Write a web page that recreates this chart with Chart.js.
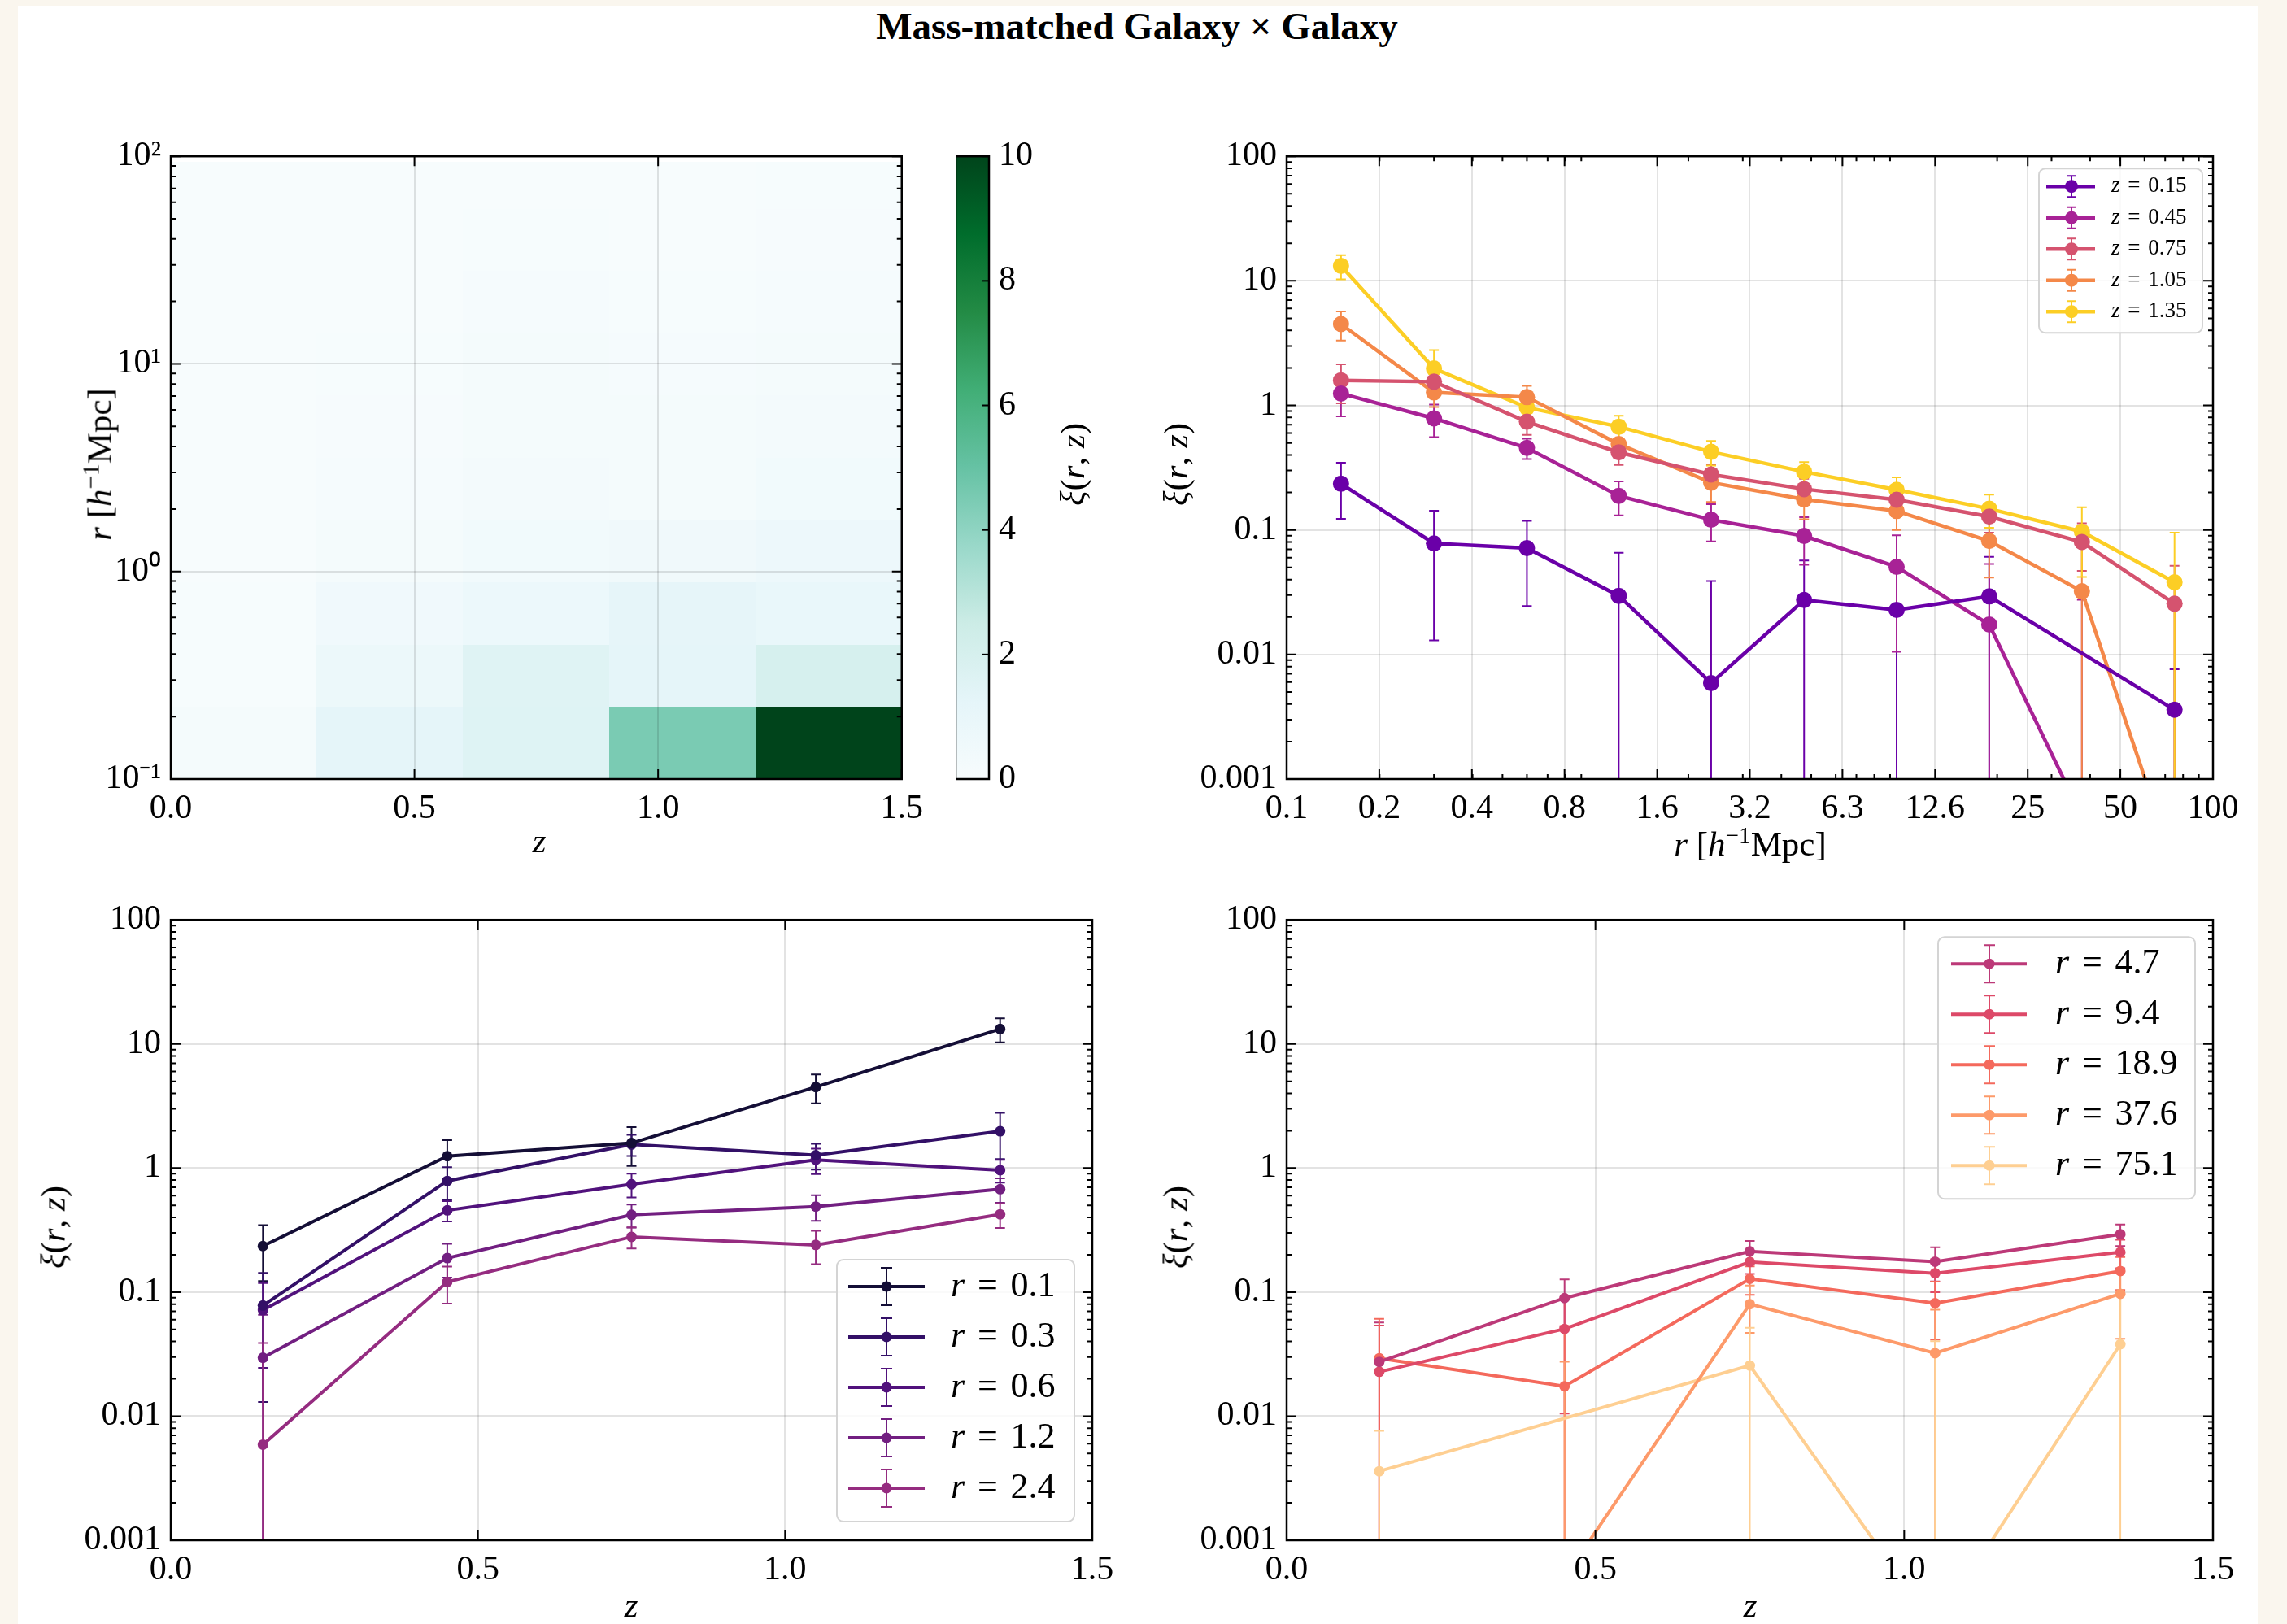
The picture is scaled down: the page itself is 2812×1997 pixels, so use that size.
<!DOCTYPE html>
<html>
<head>
<meta charset="utf-8">
<script src="https://cdn.jsdelivr.net/npm/chart.js@4.4.1/dist/chart.umd.min.js"></script>
<style>
  body { margin: 0; width: 2812px; height: 1997px; background: #faf6ee; overflow: hidden; font-family: 'Liberation Serif', serif; }
  #page { position: absolute; left: 22px; top: 7px; width: 2754px; height: 1990px; background: #fff; }
  canvas { position: absolute; }
  .lbl { position: absolute; font-size: 43px; white-space: nowrap; color: #000; transform: translate(-50%, -50%); line-height: 1; }
  .rot { transform: translate(-50%, -50%) rotate(-90deg); }
  .lbl sup { font-size: 0.68em; vertical-align: 0.5em; line-height: 0; }
  #title { position: absolute; left: 1398px; top: 32px; transform: translate(-50%, -50%); font-size: 47px; font-weight: bold; white-space: nowrap; }
</style>
</head>
<body>
<div id="page"></div>
<div id="title">Mass-matched Galaxy × Galaxy</div>

<canvas id="heat" width="1087" height="883" style="left:60px;top:155px"></canvas>
<canvas id="cbar" width="131" height="883" style="left:1175px;top:155px"></canvas>
<canvas id="xiR" width="1334" height="883" style="left:1432px;top:155px"></canvas>
<canvas id="xiZlo" width="1323" height="880" style="left:60px;top:1094px"></canvas>
<canvas id="xiZhi" width="1334" height="880" style="left:1432px;top:1094px"></canvas>

<div class="lbl" style="left:663px;top:1033px"><i>z</i></div>
<div class="lbl rot" style="left:122px;top:571px"><i>r</i> [<i>h</i><sup>−1</sup>Mpc]</div>
<div class="lbl rot" style="left:1318px;top:571px"><i>ξ</i>(<i>r</i>, <i>z</i>)</div>
<div class="lbl" style="left:2152px;top:1037px"><i>r</i> [<i>h</i><sup>−1</sup>Mpc]</div>
<div class="lbl rot" style="left:1445px;top:571px"><i>ξ</i>(<i>r</i>, <i>z</i>)</div>
<div class="lbl" style="left:776px;top:1973px"><i>z</i></div>
<div class="lbl rot" style="left:65px;top:1509px"><i>ξ</i>(<i>r</i>, <i>z</i>)</div>
<div class="lbl" style="left:2152px;top:1973px"><i>z</i></div>
<div class="lbl rot" style="left:1445px;top:1509px"><i>ξ</i>(<i>r</i>, <i>z</i>)</div>

<script>
// ---- data ----
const zCenters = [0.15, 0.45, 0.75, 1.05, 1.35];
const zLabels = ['0.15', '0.45', '0.75', '1.05', '1.35'];
const rCenters = [0.15, 0.30, 0.60, 1.19, 2.37, 4.74, 9.45, 18.85, 37.62, 75.06];
const rLabels = ['0.1', '0.3', '0.6', '1.2', '2.4', '4.7', '9.4', '18.9', '37.6', '75.1'];

// xi(r, z), one row per redshift bin (null = no measurement)
const xiZ015 = [0.235, 0.078, 0.0715, 0.0296, 0.0059, 0.0274, 0.0228, 0.0293, null, 0.0036];
const xiZ045 = [1.246, 0.787, 0.456, 0.188, 0.1208, 0.0895, 0.0505, 0.0174, 0.0005, null];
const xiZ075 = [1.59, 1.55, 0.74, 0.42, 0.279, 0.213, 0.175, 0.128, 0.080, 0.0256];
const xiZ105 = [4.5, 1.27, 1.165, 0.489, 0.24, 0.176, 0.142, 0.0815, 0.0322, 0.0002];
const xiZ135 = [13.2, 1.98, 0.962, 0.675, 0.424, 0.293, 0.21, 0.148, 0.097, 0.038];

// 1-sigma errors, same layout
const errZ015 = [0.112, 0.065, 0.047, 0.036, 0.033, 0.0295, 0.031, 0.0315, null, 0.004];
const errZ045 = [0.43, 0.23, 0.085, 0.057, 0.04, 0.037, 0.040, 0.036, 0.027, null];
const errZ075 = [0.55, 0.3, 0.16, 0.088, 0.054, 0.045, 0.035, 0.033, 0.033, 0.026];
const errZ105 = [1.18, 0.3, 0.27, 0.114, 0.072, 0.054, 0.042, 0.04, 0.04, 0.04];
const errZ135 = [2.9, 0.8, 0.2, 0.15, 0.095, 0.058, 0.054, 0.044, 0.055, 0.057];

// axis ticks
const zTicks = [0, 0.5, 1.0, 1.5];
const zTickLabels = ['0.0', '0.5', '1.0', '1.5'];
const xiTicks = [0.001, 0.01, 0.1, 1, 10, 100];
const xiTickLabels = ['0.001', '0.01', '0.1', '1', '10', '100'];
const rTicks = [0.1, 0.1995, 0.3981, 0.7943, 1.585, 3.162, 6.310, 12.59, 25.12, 50.12, 100];
const rTickLabels = ['0.1', '0.2', '0.4', '0.8', '1.6', '3.2', '6.3', '12.6', '25', '50', '100'];
const rHeatTicks = [0.1, 1, 10, 100];
const rHeatTickLabels = ['10\u207B\u00B9', '10\u2070', '10\u00B9', '10\u00B2'];
const cbarTicks = [0, 2, 4, 6, 8, 10];
const cbarTickLabels = ['0', '2', '4', '6', '8', '10'];

// colours
const zColors = ['#6a00a8', '#a82296', '#d5536f', '#f48849', '#fcce25'];
const rColors = ['#140e36', '#331067', '#51127c', '#721f81', '#952c80',
                 '#bc3978', '#dd4968', '#f4695c', '#fd9a6a', '#fecf92'];
const BUGN = ['#f7fcfd', '#e5f5f9', '#ccece6', '#99d8c9', '#66c2a4', '#41ae76', '#238b45', '#006d2c', '#00441b'];

const xiRows = [xiZ015, xiZ045, xiZ075, xiZ105, xiZ135];
const errRows = [errZ015, errZ045, errZ075, errZ105, errZ135];

const SERIF = "'Liberation Serif', 'Times New Roman', serif";
const TICK_FONT = { family: SERIF, size: 42 };
const GRID = 'rgba(0,0,0,0.11)';

// ---- helpers ----
function hexToRgb(h) {
  const n = parseInt(h.slice(1), 16);
  return [(n >> 16) & 255, (n >> 8) & 255, n & 255];
}
function bugn(t) {
  t = Math.max(0, Math.min(1, t));
  const s = t * (BUGN.length - 1);
  const i = Math.min(Math.floor(s), BUGN.length - 2);
  const f = s - i;
  const a = hexToRgb(BUGN[i]), b = hexToRgb(BUGN[i + 1]);
  return 'rgb(' + a.map((c, k) => Math.round(c + (b[k] - c) * f)).join(',') + ')';
}
function edges(c) {
  const e = [c[0] - (c[1] - c[0]) / 2];
  for (let i = 0; i < c.length - 1; i++) e.push((c[i] + c[i + 1]) / 2);
  e.push(c[c.length - 1] + (c[c.length - 1] - c[c.length - 2]) / 2);
  return e;
}
function logMinors(lo, hi) {
  const out = [];
  for (let e = Math.floor(Math.log10(lo)); e <= Math.ceil(Math.log10(hi)); e++) {
    for (let m = 2; m <= 9; m++) {
      const v = m * Math.pow(10, e);
      if (v > lo && v < hi) out.push(v);
    }
  }
  return out;
}

function axis(type, min, max, ticks, labels, size, extra) {
  return Object.assign({
    type, min, max,
    afterBuildTicks: s => { s.ticks = ticks.map(v => ({ value: v })); },
    afterFit: s => { if (s.isHorizontal()) s.height = size; else s.width = size; },
    ticks: { callback: (v, i) => labels[i], autoSkip: false, maxRotation: 0, minRotation: 0,
             font: TICK_FONT, color: '#000', padding: 12 },
    grid: { color: GRID, lineWidth: 2, drawTicks: false },
    border: { display: false }
  }, extra || {});
}

// inward ticks on all sides + black frame
function frame(xMinor, yMinor, sides) {
  sides = sides || { left: true, right: true, top: true, bottom: true };
  return {
    id: 'frame',
    afterDraw(chart) {
      const { ctx, chartArea: a } = chart;
      const x = chart.scales.x, y = chart.scales.y;
      ctx.save();
      ctx.strokeStyle = '#000';
      ctx.lineWidth = 2;
      const mark = (sc, vals, len) => {
        vals.forEach(v => {
          const p = sc.getPixelForValue(v);
          ctx.beginPath();
          if (sc.isHorizontal()) {
            if (p < a.left - 0.5 || p > a.right + 0.5) return;
            if (sides.bottom) { ctx.moveTo(p, a.bottom); ctx.lineTo(p, a.bottom - len); }
            if (sides.top) { ctx.moveTo(p, a.top); ctx.lineTo(p, a.top + len); }
          } else {
            if (p < a.top - 0.5 || p > a.bottom + 0.5) return;
            if (sides.left) { ctx.moveTo(a.left, p); ctx.lineTo(a.left + len, p); }
            if (sides.right) { ctx.moveTo(a.right, p); ctx.lineTo(a.right - len, p); }
          }
          ctx.stroke();
        });
      };
      if (x.options.display !== false) {
        mark(x, x.ticks.map(t => t.value), 12);
        mark(x, xMinor, 6);
      }
      mark(y, y.ticks.map(t => t.value), sides.len || 12);
      mark(y, yMinor, 6);
      ctx.lineWidth = 2.5;
      ctx.strokeRect(a.left, a.top, a.right - a.left, a.bottom - a.top);
      ctx.restore();
    }
  };
}

// vertical error bars with caps, drawn under the lines
function errorBars(lw, cap) {
  return {
    id: 'errorBars',
    beforeDatasetsDraw(chart) {
      const { ctx, chartArea: a } = chart;
      const x = chart.scales.x, y = chart.scales.y;
      ctx.save();
      ctx.beginPath();
      ctx.rect(a.left, a.top, a.right - a.left, a.bottom - a.top);
      ctx.clip();
      ctx.lineWidth = lw;
      chart.data.datasets.forEach(ds => {
        ctx.strokeStyle = ds.borderColor;
        ds.data.forEach(p => {
          if (p.e == null) return;
          const px = x.getPixelForValue(p.x);
          const top = y.getPixelForValue(p.y + p.e);
          const lo = p.y - p.e;
          const bot = lo > 0 ? y.getPixelForValue(lo) : a.bottom + 20;
          ctx.beginPath();
          ctx.moveTo(px, top); ctx.lineTo(px, bot);
          ctx.moveTo(px - cap, top); ctx.lineTo(px + cap, top);
          if (lo > 0) { ctx.moveTo(px - cap, bot); ctx.lineTo(px + cap, bot); }
          ctx.stroke();
        });
      });
      ctx.restore();
    }
  };
}

function legendBox(cfg) {
  return {
    id: 'errLegend',
    afterDraw(chart) {
      const { ctx, chartArea: a } = chart;
      const left = a.right - cfg.right - cfg.w;
      const top = cfg.top != null ? a.top + cfg.top : a.bottom - cfg.bottom - cfg.h;
      const r = 8;
      ctx.save();
      ctx.beginPath();
      ctx.moveTo(left + r, top);
      ctx.arcTo(left + cfg.w, top, left + cfg.w, top + cfg.h, r);
      ctx.arcTo(left + cfg.w, top + cfg.h, left, top + cfg.h, r);
      ctx.arcTo(left, top + cfg.h, left, top, r);
      ctx.arcTo(left, top, left + cfg.w, top, r);
      ctx.closePath();
      ctx.fillStyle = 'rgba(255,255,255,0.8)';
      ctx.fill();
      ctx.strokeStyle = '#d4d4d4';
      ctx.lineWidth = 2;
      ctx.stroke();
      chart.data.datasets.forEach((ds, i) => {
        const cy = top + cfg.first + i * cfg.step;
        const mx = left + cfg.mx;
        ctx.strokeStyle = ds.borderColor;
        ctx.lineWidth = ds.borderWidth;
        ctx.beginPath();
        ctx.moveTo(left + cfg.lx0, cy); ctx.lineTo(left + cfg.lx1, cy);
        ctx.stroke();
        ctx.lineWidth = cfg.ew;
        ctx.beginPath();
        ctx.moveTo(mx, cy - cfg.eh); ctx.lineTo(mx, cy + cfg.eh);
        ctx.moveTo(mx - cfg.cap, cy - cfg.eh); ctx.lineTo(mx + cfg.cap, cy - cfg.eh);
        ctx.moveTo(mx - cfg.cap, cy + cfg.eh); ctx.lineTo(mx + cfg.cap, cy + cfg.eh);
        ctx.stroke();
        ctx.fillStyle = ds.borderColor;
        ctx.beginPath();
        ctx.arc(mx, cy, cfg.mr, 0, Math.PI * 2);
        ctx.fill();
        // "sym = value", math-style spacing around the equals sign
        const [sym, eq, val] = ds.label.split(' ');
        const gap = cfg.fs * 0.36;
        let tx = left + cfg.tx;
        ctx.fillStyle = '#000';
        ctx.textBaseline = 'middle';
        ctx.textAlign = 'left';
        ctx.font = 'italic ' + cfg.fs + 'px ' + SERIF;
        ctx.fillText(sym, tx, cy);
        tx += ctx.measureText(sym).width + gap;
        ctx.font = cfg.fs + 'px ' + SERIF;
        ctx.fillText(eq, tx, cy);
        tx += ctx.measureText(eq).width + gap;
        ctx.fillText(val, tx, cy);
      });
      ctx.restore();
    }
  };
}

function series(label, xs, ys, es, color, bw, pr) {
  const data = [];
  xs.forEach((xv, i) => { if (ys[i] != null) data.push({ x: xv, y: ys[i], e: es[i] }); });
  return {
    label, data, borderColor: color, backgroundColor: color,
    borderWidth: bw, pointRadius: pr, pointHoverRadius: pr, pointBorderWidth: 0,
    pointBackgroundColor: color, tension: 0
  };
}

Chart.defaults.font.family = SERIF;
Chart.defaults.color = '#000';

// ---- top left: heatmap ----
const zEdges = edges(zCenters);
const rEdges = edges(rCenters);
const heatCells = [];
zCenters.forEach((zv, i) => rCenters.forEach((rv, j) => {
  heatCells.push({ x: zv, y: rv, v: xiRows[i][j], zi: i, rj: j });
}));

new Chart(document.getElementById('heat'), {
  type: 'scatter',
  data: { datasets: [{ data: heatCells, pointRadius: 0 }] },
  options: {
    responsive: false, devicePixelRatio: 1, animation: false, events: [],
    layout: { padding: { top: 30, right: 30, left: 0, bottom: 0 } },
    plugins: { legend: { display: false }, tooltip: { enabled: false } },
    scales: {
      x: axis('linear', 0, 1.5, zTicks, zTickLabels, 80),
      y: axis('logarithmic', 0.1, 100, rHeatTicks, rHeatTickLabels, 150)
    }
  },
  plugins: [{
    id: 'cells',
    beforeDraw(chart) {
      const { ctx, chartArea: a } = chart;
      const x = chart.scales.x, y = chart.scales.y;
      ctx.save();
      ctx.beginPath();
      ctx.rect(a.left, a.top, a.right - a.left, a.bottom - a.top);
      ctx.clip();
      chart.data.datasets[0].data.forEach(c => {
        const x0 = x.getPixelForValue(zEdges[c.zi]), x1 = x.getPixelForValue(zEdges[c.zi + 1]);
        const y0 = y.getPixelForValue(rEdges[c.rj]), y1 = y.getPixelForValue(rEdges[c.rj + 1]);
        ctx.fillStyle = bugn((c.v == null ? 0 : c.v) / 10);
        ctx.fillRect(Math.floor(x0), Math.floor(y1), Math.ceil(x1 - x0) + 1, Math.ceil(y0 - y1) + 1);
      });
      ctx.restore();
    }
  }, frame([], logMinors(0.1, 100))]
});

// ---- colour bar ----
new Chart(document.getElementById('cbar'), {
  type: 'scatter',
  data: { datasets: [] },
  options: {
    responsive: false, devicePixelRatio: 1, animation: false, events: [],
    layout: { padding: { top: 30, right: 0, left: 0, bottom: 80 } },
    plugins: { legend: { display: false }, tooltip: { enabled: false } },
    scales: {
      x: { display: false, min: 0, max: 1 },
      y: axis('linear', 0, 10, cbarTicks, cbarTickLabels, 90, {
        position: 'right',
        grid: { display: false, drawTicks: false }
      })
    }
  },
  plugins: [{
    id: 'gradient',
    beforeDraw(chart) {
      const { ctx, chartArea: a } = chart;
      const y = chart.scales.y;
      const g = ctx.createLinearGradient(0, y.getPixelForValue(0), 0, y.getPixelForValue(10));
      BUGN.forEach((c, i) => g.addColorStop(i / (BUGN.length - 1), c));
      ctx.fillStyle = g;
      ctx.fillRect(a.left, a.top, a.right - a.left, a.bottom - a.top);
    }
  }, frame([], [], { right: true, len: 8 })]
});

// ---- top right: xi vs r, one line per z ----
new Chart(document.getElementById('xiR'), {
  type: 'line',
  data: {
    datasets: zCenters.map((zv, i) =>
      series('z = ' + zLabels[i], rCenters, xiRows[i], errRows[i], zColors[i], 4.5, 10))
  },
  options: {
    responsive: false, devicePixelRatio: 1, animation: false, events: [],
    layout: { padding: { top: 30, right: 45, left: 0, bottom: 0 } },
    plugins: { legend: { display: false }, tooltip: { enabled: false } },
    scales: {
      x: axis('logarithmic', 0.1, 100, rTicks, rTickLabels, 80),
      y: axis('logarithmic', 0.001, 100, xiTicks, xiTickLabels, 150)
    }
  },
  plugins: [errorBars(2, 6), frame(logMinors(0.1, 100), logMinors(0.001, 100)),
    legendBox({ right: 13, top: 15, w: 201, h: 202, first: 22, step: 38.5, lx0: 9, lx1: 69, mx: 40,
                eh: 13, ew: 2, cap: 6, mr: 8, tx: 89, fs: 27 })]
});

// ---- bottom: xi vs z, one line per r ----
function zPanel(id, idx, legendCfg) {
  new Chart(document.getElementById(id), {
    type: 'line',
    data: {
      datasets: idx.map(j => series('r = ' + rLabels[j], zCenters,
        xiRows.map(row => row[j]), errRows.map(row => row[j]), rColors[j], 4, 6.5))
    },
    options: {
      responsive: false, devicePixelRatio: 1, animation: false, events: [],
      layout: { padding: { top: 30, right: id === 'xiZlo' ? 40 : 45, left: 0, bottom: 0 } },
      plugins: { legend: { display: false }, tooltip: { enabled: false } },
      scales: {
        x: axis('linear', 0, 1.5, zTicks, zTickLabels, 80),
        y: axis('logarithmic', 0.001, 100, xiTicks, xiTickLabels, 150)
      }
    },
    plugins: [errorBars(2, 6), frame([], logMinors(0.001, 100)), legendBox(legendCfg)]
  });
}

zPanel('xiZlo', [0, 1, 2, 3, 4],
  { right: 22, bottom: 23, w: 292, h: 322, first: 33, step: 62, lx0: 14, lx1: 108, mx: 61,
    eh: 23, ew: 2, cap: 7, mr: 6.5, tx: 140, fs: 44 });
zPanel('xiZhi', [5, 6, 7, 8, 9],
  { right: 22, top: 21, w: 316, h: 322, first: 33, step: 62, lx0: 16, lx1: 109, mx: 63,
    eh: 23, ew: 2, cap: 7, mr: 6.5, tx: 144, fs: 44 });
</script>
</body>
</html>
